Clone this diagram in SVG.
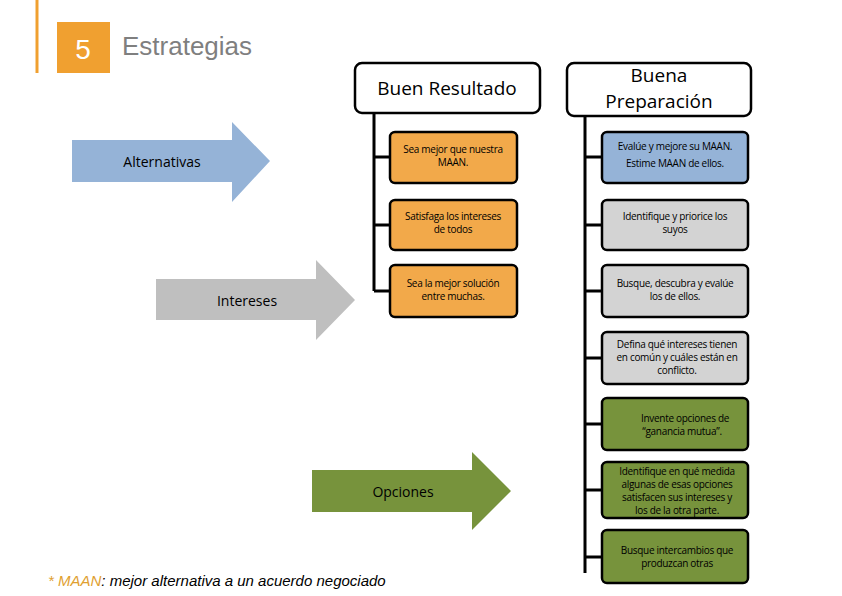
<svg xmlns="http://www.w3.org/2000/svg" width="842" height="596" viewBox="0 0 842 596">
<style>
text{font-family:"Liberation Sans",Arial,sans-serif}
.c{font-family:"Open Sans","DejaVu Sans",sans-serif;font-weight:normal;text-anchor:middle;font-size:10px;fill:#000;letter-spacing:-0.3px}
.h{font-family:"Open Sans","DejaVu Sans",sans-serif;font-weight:normal;text-anchor:middle;font-size:19px;fill:#000}
.a{font-family:"Open Sans","DejaVu Sans",sans-serif;font-weight:normal;text-anchor:middle;font-size:14px;fill:#000}
.box{stroke:#000;stroke-width:2.5}
.o{fill:#f2a94a}.b{fill:#95b3d7}.g{fill:#d3d3d3}.gr{fill:#77933c}
.ln{stroke:#000;stroke-width:3;fill:none}
</style>
<rect width="842" height="596" fill="#fff"/>
<g id="title">
<line x1="37" y1="0" x2="37" y2="73" stroke="#f0a030" stroke-width="3"/>
<rect x="57" y="22" width="53" height="51" fill="#f0a030"/>
<text x="83" y="59" font-size="28" fill="#fff" text-anchor="middle">5</text>
<text x="122" y="55" font-size="26" fill="#7f7f7f">Estrategias</text>
</g>
<g id="arrow-alternativas"><path d="M72 140H232V122L270 161L232 202V182H72Z" fill="#95b3d7"/><text class="a" x="162" y="167">Alternativas</text></g>
<g id="arrow-intereses"><path d="M156 279H316V260L355 300L316 340V320H156Z" fill="#bfbfbf"/><text class="a" x="247" y="306">Intereses</text></g>
<g id="arrow-opciones"><path d="M312 470H472V452L511 491L472 530V512H312Z" fill="#77933c"/><text class="a" x="403" y="497">Opciones</text></g>
<g id="connectors">
<path class="ln" d="M374 113V291M374 157H390M374 225H390M374 291H390"/>
<path class="ln" d="M585 116V573M585 157H602M585 225H602M585 291H602M585 358H602M585 424H602M585 490H602M585 557H602"/>
</g>
<g id="h1"><rect class="box" x="355" y="63" width="185" height="50" rx="7" fill="#fff"/><text class="h" x="447" y="95">Buen Resultado</text></g>
<g id="h2"><rect class="box" x="567" y="63" width="184" height="53" rx="7" fill="#fff"/><text class="h" x="659" y="82">Buena</text><text class="h" x="659" y="108">Preparación</text></g>
<g id="r1"><rect class="box o" x="390" y="132" width="127" height="51" rx="5"/><text class="c" x="453" y="153">Sea mejor que nuestra</text><text class="c" x="453" y="166">MAAN.</text></g>
<g id="r2"><rect class="box o" x="390" y="200" width="127" height="50" rx="5"/><text class="c" x="453" y="220">Satisfaga los intereses</text><text class="c" x="453" y="233">de todos</text></g>
<g id="r3"><rect class="box o" x="390" y="265" width="127" height="52" rx="5"/><text class="c" x="453" y="287">Sea la mejor solución</text><text class="c" x="453" y="300">entre muchas.</text></g>
<g id="p1"><rect class="box b" x="602" y="132" width="146" height="51" rx="5"/><text class="c" x="675" y="150">Evalúe y mejore su MAAN.</text><text class="c" x="675" y="167">Estime MAAN de ellos.</text></g>
<g id="p2"><rect class="box g" x="602" y="200" width="146" height="50" rx="5"/><text class="c" x="675" y="220">Identifique y priorice los</text><text class="c" x="675" y="233">suyos</text></g>
<g id="p3"><rect class="box g" x="602" y="265" width="146" height="52" rx="5"/><text class="c" x="675" y="287">Busque, descubra y evalúe</text><text class="c" x="675" y="300">los de ellos.</text></g>
<g id="p4"><rect class="box g" x="602" y="332" width="146" height="52" rx="5"/><text class="c" x="677" y="348">Defina qué intereses tienen</text><text class="c" x="677" y="361">en común y cuáles están en</text><text class="c" x="677" y="374">conflicto.</text></g>
<g id="p5"><rect class="box gr" x="602" y="398" width="146" height="52" rx="5"/><text class="c" x="685" y="422">Invente opciones de</text><text class="c" x="682" y="435">“ganancia mutua”.</text></g>
<g id="p6"><rect class="box gr" x="602" y="462" width="146" height="56" rx="5"/><text class="c" x="677" y="475">Identifique en qué medida</text><text class="c" x="677" y="488">algunas de esas opciones</text><text class="c" x="677" y="501">satisfacen sus intereses y</text><text class="c" x="677" y="514">los de la otra parte.</text></g>
<g id="p7"><rect class="box gr" x="602" y="530" width="146" height="53" rx="5"/><text class="c" x="677" y="554">Busque intercambios que</text><text class="c" x="677" y="567">produzcan otras</text></g>
<text x="48" y="586" font-size="15" font-style="italic" fill="#000"><tspan fill="#e0a030">* MAAN</tspan>: mejor alternativa a un acuerdo negociado</text>
</svg>
